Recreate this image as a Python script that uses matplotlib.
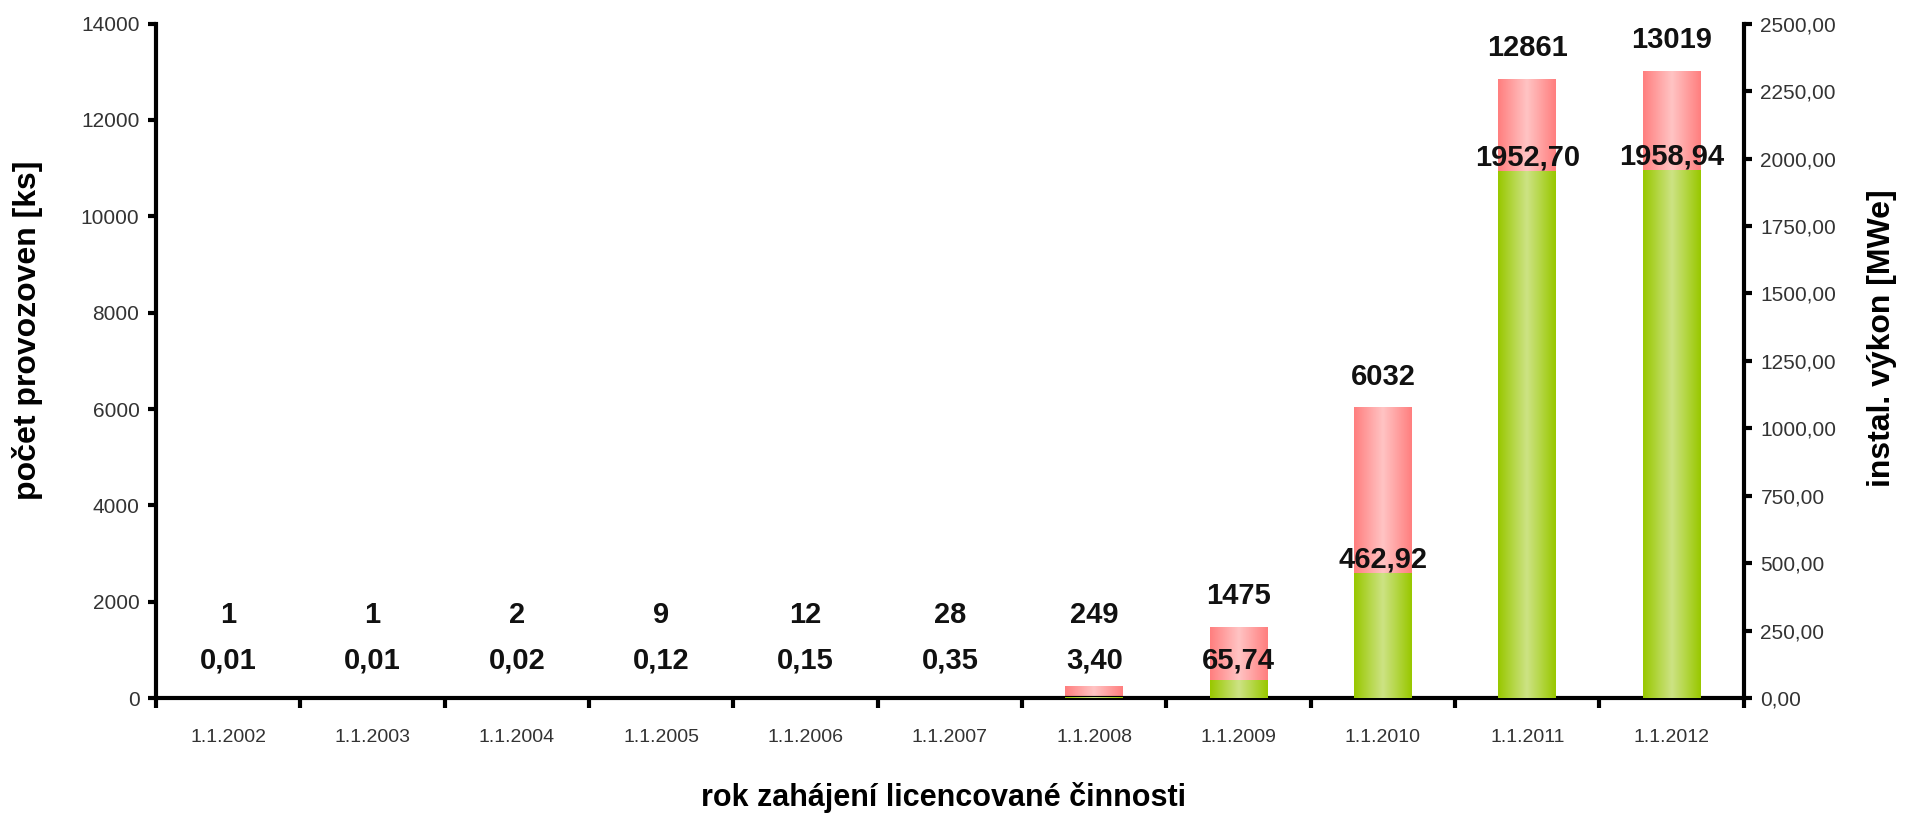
import numpy as np
import matplotlib.pyplot as plt
from matplotlib.colors import LinearSegmentedColormap
from matplotlib.ticker import FuncFormatter, MultipleLocator

plt.rcParams['font.family'] = ['Liberation Sans', 'DejaVu Sans']

# data
dates = ['1.1.2002', '1.1.2003', '1.1.2004', '1.1.2005', '1.1.2006', '1.1.2007',
         '1.1.2008', '1.1.2009', '1.1.2010', '1.1.2011', '1.1.2012']
counts = [1, 1, 2, 9, 12, 28, 249, 1475, 6032, 12861, 13019]
power = [0.01, 0.01, 0.02, 0.12, 0.15, 0.35, 3.40, 65.74, 462.92, 1952.70, 1958.94]

x = np.arange(len(dates))
width = 0.40

fig = plt.figure(figsize=(19.10, 8.16), dpi=100)
ax = fig.add_axes([0.0817, 0.1446, 0.8313, 0.8264])
ax2 = ax.twinx()

pink = LinearSegmentedColormap.from_list('pink', ['#ff7f7f', '#ffc4c4', '#ff7f7f'])
green = LinearSegmentedColormap.from_list('green', ['#99c800', '#cde385', '#99c800'])
grad = np.linspace(0, 1, 64).reshape(1, -1)


def gradient_bars(axis, values, cmap, edge):
    bars = axis.bar(x, values, width, color=edge, linewidth=0, zorder=2)
    for b in bars:
        x0, w, h = b.get_x(), b.get_width(), b.get_height()
        im = axis.imshow(grad, extent=[x0, x0 + w, 0, h], aspect='auto',
                         cmap=cmap, zorder=3, interpolation='bicubic')
        im.set_clip_path(b)
    return bars


gradient_bars(ax, counts, pink, '#ff8080')
gradient_bars(ax2, power, green, '#99c800')

ax.set_xlim(-0.5, len(dates) - 0.5)
ax.set_ylim(0, 14000)
ax2.set_ylim(0, 2500)

# value labels
for xi, c in zip(x, counts):
    ax.text(xi, max(c + 640, 1720), str(c), ha='center', va='center',
            fontsize=21, fontweight='bold', color='#111111', zorder=5)
for xi, m in zip(x, power):
    ax2.text(xi, max(m + 50, 140), f"{m:.2f}".replace('.', ','), ha='center',
             va='center', fontsize=21, fontweight='bold', color='#111111', zorder=5)

# axes styling
ax.set_xticks(x)
ax.set_xticklabels(dates)
ax.set_xticks(np.arange(-0.5, len(dates)), minor=True)
ax.tick_params(axis='x', which='major', length=0, pad=22, labelsize=14, labelcolor='#333333')
ax.tick_params(axis='x', which='minor', length=7, width=3, direction='out')
ax.yaxis.set_major_locator(MultipleLocator(2000))
ax.tick_params(axis='y', length=6, width=3, labelsize=15, labelcolor='#333333', pad=6)
ax2.yaxis.set_major_locator(MultipleLocator(250))
ax2.yaxis.set_major_formatter(FuncFormatter(lambda v, p: f"{v:.2f}".replace('.', ',')))
ax2.tick_params(axis='y', length=6, width=3, labelsize=15, labelcolor='#333333', pad=6)

for a in (ax, ax2):
    a.spines['top'].set_visible(False)
    for s in ('left', 'right', 'bottom'):
        a.spines[s].set_linewidth(3)
ax.spines['right'].set_visible(False)
ax2.spines['left'].set_visible(False)
ax2.spines['bottom'].set_visible(False)
ax.spines['bottom'].set_zorder(10)

# axis titles
ax.text(-0.081, 0.545, 'počet provozoven [ks]', transform=ax.transAxes, rotation=90,
        ha='center', va='center', fontsize=23, fontweight='bold')
ax2.text(1.087, 0.534, 'instal. výkon [MWe]', transform=ax2.transAxes, rotation=90,
         ha='center', va='center', fontsize=23, fontweight='bold')
ax.text(0.496, -0.148, 'rok zahájení licencované činnosti', transform=ax.transAxes,
        ha='center', va='center', fontsize=22, fontweight='bold')

fig.savefig('out.png', dpi=100)
